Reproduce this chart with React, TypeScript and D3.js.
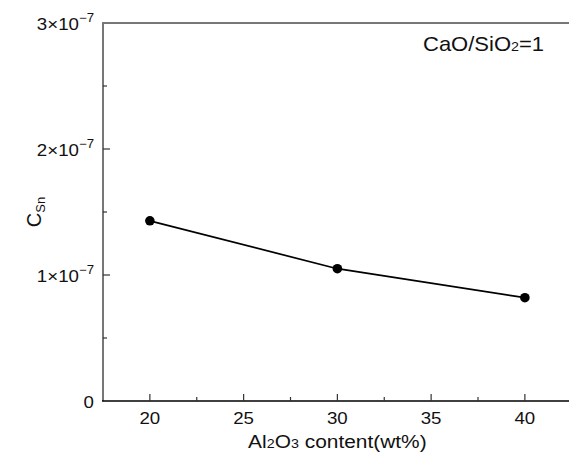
import React, { useEffect, useRef } from 'react';
import * as d3 from 'd3';

// data
const al2o3 = [20, 30, 40];
const csn = [1.43e-7, 1.05e-7, 0.82e-7];
const xTicks = [20, 25, 30, 35, 40];
const xMinor = [22.5, 27.5, 32.5, 37.5, 42.5];
const yTicks = [0, 1e-7, 2e-7, 3e-7];
const yMinor = [0.5e-7, 1.5e-7, 2.5e-7];
const yTickMantissa = ['0', '1', '2', '3'];

const W = 569;
const H = 456;

const App = () => {
  const svgRef = useRef<SVGSVGElement>(null);

  useEffect(() => {
    const svg = d3.select(svgRef.current);
    svg.selectAll('*').remove();

    const font = 'Arial, "Liberation Sans", sans-serif';
    const sx = 1.1; // source picture is a bit stretched horizontally
    const x = d3.scaleLinear().domain([17.5, 42.5]).range([103, 571.75]);
    const y = d3.scaleLinear().domain([0, 3e-7]).range([401, 23]);

    const axisGray = '#777';

    // text placed in a horizontally stretched group
    const label = (px: number, py: number, size: number, anchor: string) =>
      svg.append('g')
        .attr('transform', `translate(${px},${py}) scale(${sx},1)`)
        .append('text')
        .attr('text-anchor', anchor)
        .style('font-family', font)
        .style('font-size', `${size}px`)
        .attr('fill', '#111');

    // top border
    svg.append('line')
      .attr('x1', x(17.5)).attr('x2', W)
      .attr('y1', y(3e-7)).attr('y2', y(3e-7))
      .attr('stroke', axisGray).attr('stroke-width', 2);

    // left axis
    svg.append('line')
      .attr('x1', x(17.5)).attr('x2', x(17.5))
      .attr('y1', y(3e-7) - 1).attr('y2', y(0))
      .attr('stroke', axisGray).attr('stroke-width', 2);

    yTicks.slice(1, 3).forEach(v => {
      svg.append('line')
        .attr('x1', x(17.5)).attr('x2', x(17.5) + 7)
        .attr('y1', y(v)).attr('y2', y(v))
        .attr('stroke', '#333').attr('stroke-width', 1.2);
    });
    yMinor.forEach(v => {
      svg.append('line')
        .attr('x1', x(17.5)).attr('x2', x(17.5) + 4)
        .attr('y1', y(v)).attr('y2', y(v))
        .attr('stroke', '#333').attr('stroke-width', 1.2);
    });

    // y tick labels
    yTicks.forEach((v, i) => {
      const t = label(94, y(v) + 7, 17, 'end');
      if (v === 0) {
        t.text('0');
      } else {
        t.append('tspan').text(yTickMantissa[i] + '×10');
        t.append('tspan').attr('dy', -8).style('font-size', '12px').text('−7');
      }
    });

    // bottom axis
    svg.append('line')
      .attr('x1', x(17.5) - 1).attr('x2', W)
      .attr('y1', y(0)).attr('y2', y(0))
      .attr('stroke', '#000').attr('stroke-width', 1.5);

    xTicks.forEach(v => {
      svg.append('line')
        .attr('x1', x(v)).attr('x2', x(v))
        .attr('y1', y(0)).attr('y2', y(0) - 7)
        .attr('stroke', '#333').attr('stroke-width', 1.2);
      label(x(v), 424, 17, 'middle').text(v);
    });
    xMinor.forEach(v => {
      svg.append('line')
        .attr('x1', x(v)).attr('x2', x(v))
        .attr('y1', y(0)).attr('y2', y(0) - 4)
        .attr('stroke', '#333').attr('stroke-width', 1.2);
    });

    // x axis title
    const xt = label(x(30), 448, 19, 'middle');
    xt.append('tspan').text('Al');
    xt.append('tspan').style('font-size', '13px').text('2');
    xt.append('tspan').text('O');
    xt.append('tspan').style('font-size', '13px').text('3');
    xt.append('tspan').text(' content(wt%)');

    // y axis title
    const yt = svg.append('text')
      .attr('transform', `translate(41, ${y(1.5e-7)}) rotate(-90)`)
      .attr('text-anchor', 'middle')
      .style('font-family', font)
      .style('font-size', '20px')
      .attr('fill', '#111');
    yt.append('tspan').text('C');
    yt.append('tspan').attr('dy', 4).style('font-size', '13px').text('Sn');

    // annotation
    const an = label(423, 51, 20, 'start');
    an.append('tspan').text('CaO/SiO');
    an.append('tspan').style('font-size', '13px').text('2');
    an.append('tspan').text('=1');

    // series
    const pts = al2o3.map((a, i) => [a, csn[i]] as [number, number]);
    const line = d3.line<[number, number]>().x(d => x(d[0])).y(d => y(d[1]));
    svg.append('path')
      .datum(pts)
      .attr('d', line)
      .attr('fill', 'none')
      .attr('stroke', '#000')
      .attr('stroke-width', 1.7);

    svg.selectAll('circle.pt')
      .data(pts)
      .enter()
      .append('circle')
      .attr('class', 'pt')
      .attr('cx', d => x(d[0]))
      .attr('cy', d => y(d[1]))
      .attr('r', 4.8)
      .attr('fill', '#000');
  }, []);

  return (
    <svg
      ref={svgRef}
      width={W}
      height={H}
      style={{ position: 'absolute', left: 0, top: 0, background: '#fff' }}
    />
  );
};

export default App;
